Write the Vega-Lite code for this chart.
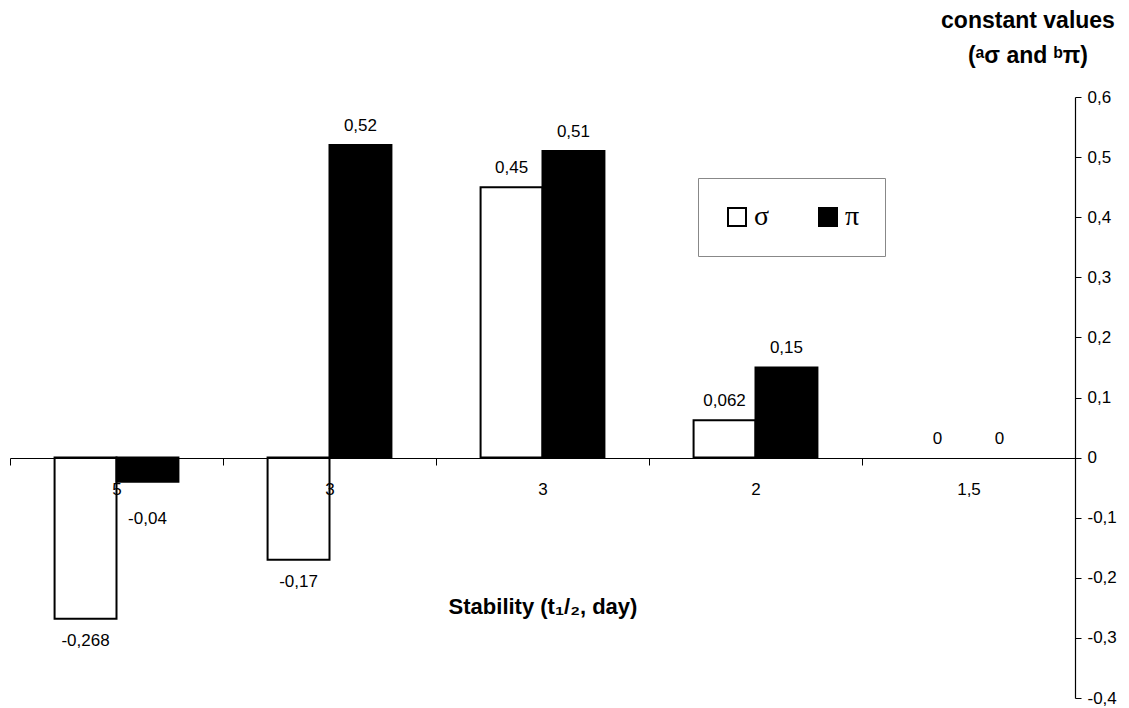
{
  "$schema": "https://vega.github.io/schema/vega-lite/v6.json",
  "width": 1065,
  "height": 601,
  "autosize": {"type": "none"},
  "padding": {"left": 10, "top": 97, "right": 54, "bottom": 10},
  "background": "white",
  "config": {
    "view": {"stroke": null},
    "font": "Liberation Sans"
  },
  "title": {
    "text": ["constant values", "(ᵃσ and ᵇπ)"],
    "anchor": "end",
    "frame": "group",
    "align": "center",
    "orient": "top",
    "fontSize": 23,
    "fontWeight": "bold",
    "font": "Liberation Sans",
    "color": "black",
    "lineHeight": 35,
    "offset": 20,
    "dx": -47
  },
  "data": {
    "values": [
      {"cat": "5", "series": "σ", "value": -0.268, "label": "-0,268"},
      {"cat": "5", "series": "π", "value": -0.04, "label": "-0,04"},
      {"cat": "3a", "series": "σ", "value": -0.17, "label": "-0,17"},
      {"cat": "3a", "series": "π", "value": 0.52, "label": "0,52"},
      {"cat": "3b", "series": "σ", "value": 0.45, "label": "0,45"},
      {"cat": "3b", "series": "π", "value": 0.51, "label": "0,51"},
      {"cat": "2", "series": "σ", "value": 0.062, "label": "0,062"},
      {"cat": "2", "series": "π", "value": 0.15, "label": "0,15"},
      {"cat": "1,5", "series": "σ", "value": 0, "label": "0"},
      {"cat": "1,5", "series": "π", "value": 0, "label": "0"}
    ]
  },
  "encoding": {
    "x": {
      "field": "cat",
      "type": "nominal",
      "sort": null,
      "scale": {"paddingInner": 0, "paddingOuter": 0},
      "axis": {
        "orient": "bottom",
        "offset": -240,
        "zindex": 1,
        "title": "Stability (t₁/₂, day)",
        "titleFontSize": 22,
        "titleFontWeight": "bold",
        "titleColor": "black",
        "titlePadding": 99,
        "labelAngle": 0,
        "labelFontSize": 17,
        "labelColor": "black",
        "labelPadding": 16,
        "labelExpr": "isValid(datum.value) ? replace(replace(datum.value, 'a', ''), 'b', '') : ''",
        "tickBand": "extent",
        "tickSize": 7,
        "tickColor": "black",
        "domainColor": "black",
        "domainWidth": 1.2
      }
    },
    "xOffset": {
      "field": "series",
      "type": "nominal",
      "sort": ["σ", "π"],
      "scale": {"domain": ["σ", "π"], "paddingInner": 0, "paddingOuter": 0.72}
    },
    "y": {
      "field": "value",
      "type": "quantitative",
      "scale": {"domain": [-0.4, 0.6], "nice": false, "zero": false},
      "axis": {
        "orient": "right",
        "title": null,
        "values": [-0.4, -0.3, -0.2, -0.1, 0, 0.1, 0.2, 0.3, 0.4, 0.5, 0.6],
        "labelExpr": "datum.value == 0 ? '0' : replace(replace(format(datum.value, '.1f'), '.', ','), '−', '-')",
        "labelFontSize": 17,
        "labelColor": "black",
        "labelPadding": 6,
        "tickSize": 6,
        "tickColor": "black",
        "domainColor": "black",
        "domainWidth": 1.2,
        "grid": false
      }
    }
  },
  "layer": [
    {
      "transform": [{"filter": "datum.value != 0"}],
      "mark": {"type": "bar", "stroke": "black", "strokeWidth": 2},
      "encoding": {
        "color": {
          "field": "series",
          "type": "nominal",
          "sort": ["σ", "π"],
          "scale": {"domain": ["σ", "π"], "range": ["white", "black"]},
          "legend": {
            "title": null,
            "orient": "none",
            "legendX": 688,
            "legendY": 81,
            "direction": "horizontal",
            "columns": 2,
            "symbolType": "square",
            "symbolSize": 324,
            "symbolStrokeColor": "black",
            "symbolStrokeWidth": 2,
            "labelFont": "Liberation Serif",
            "labelFontSize": 28,
            "labelColor": "black",
            "labelOffset": 3,
            "columnPadding": 44,
            "padding": 25,
            "strokeColor": "#888888",
            "fillColor": "white"
          }
        }
      }
    },
    {
      "transform": [{"filter": "datum.value >= 0"}],
      "mark": {"type": "text", "fontSize": 17, "color": "black", "baseline": "alphabetic", "dy": -14},
      "encoding": {"text": {"field": "label"}}
    },
    {
      "transform": [{"filter": "datum.value < -0.1"}],
      "mark": {"type": "text", "fontSize": 17, "color": "black", "baseline": "alphabetic", "dy": 27},
      "encoding": {"text": {"field": "label"}}
    },
    {
      "transform": [{"filter": "datum.value < 0 && datum.value >= -0.1"}],
      "mark": {"type": "text", "fontSize": 17, "color": "black", "baseline": "alphabetic", "dy": 42},
      "encoding": {"text": {"field": "label"}}
    }
  ]
}
